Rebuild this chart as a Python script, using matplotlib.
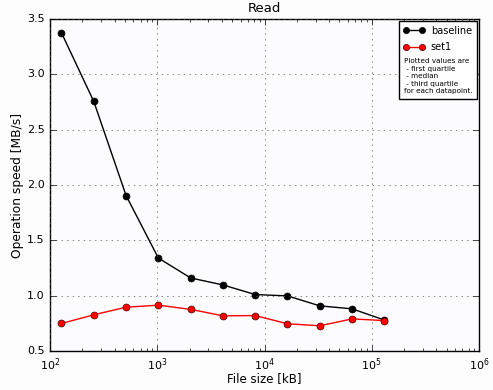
import matplotlib
matplotlib.use("Agg")
import matplotlib.pyplot as plt
from matplotlib.offsetbox import TextArea

plt.style.use('classic')

# file sizes in kB
sizes = [128, 256, 512, 1024, 2048, 4096, 8192, 16384, 32768, 65536, 131072]
baseline = [3.375, 2.755, 1.905, 1.34, 1.16, 1.097, 1.01, 0.998, 0.908, 0.881, 0.78]
set1 = [0.749, 0.827, 0.896, 0.914, 0.876, 0.818, 0.82, 0.746, 0.728, 0.79, 0.775]
note = "Plotted values are\n - first quartile\n - median\n - third quartile\nfor each datapoint."

fig = plt.figure(figsize=(4.93, 3.90), dpi=100, facecolor='#fdfdfd')
ax = fig.add_axes([50/493, 1 - 351/390, 429/493, 332/390])
ax.set_facecolor('#fcfcfe')

ax.plot(sizes, baseline, 'k-o', label='baseline', markersize=5, linewidth=1)
ax.plot(sizes, set1, 'r-o', label='set1', markersize=5, linewidth=1, markeredgecolor='#400000')

ax.set_xscale('log')
ax.set_xlim(1e2, 1e6)
ax.set_ylim(0.5, 3.5)
ax.grid(True, color='#555555')
ax.tick_params(labelsize=8, length=4)
ax.tick_params(which='minor', length=2)
ax.set_title("Read", fontsize=9.5)
ax.set_xlabel("File size [kB]", fontsize=8.5, labelpad=-1)
ax.set_ylabel("Operation speed [MB/s]", fontsize=8.8, labelpad=2)

# legend with an extra block of text under the entries
leg = ax.legend(loc='upper right', fontsize=7, numpoints=2, handlelength=2.2,
                handletextpad=0.6, alignment='left', borderpad=0.45,
                labelspacing=0.65, borderaxespad=0.25)
for h in leg.legend_handles:
    h.set_markersize(4.5)
note_box = TextArea(note, textprops=dict(fontsize=5.2, linespacing=1.3))
note_box.set_figure(fig)
leg._legend_box.get_children().append(note_box)

fig.savefig("out.png", dpi=100, facecolor=fig.get_facecolor())
